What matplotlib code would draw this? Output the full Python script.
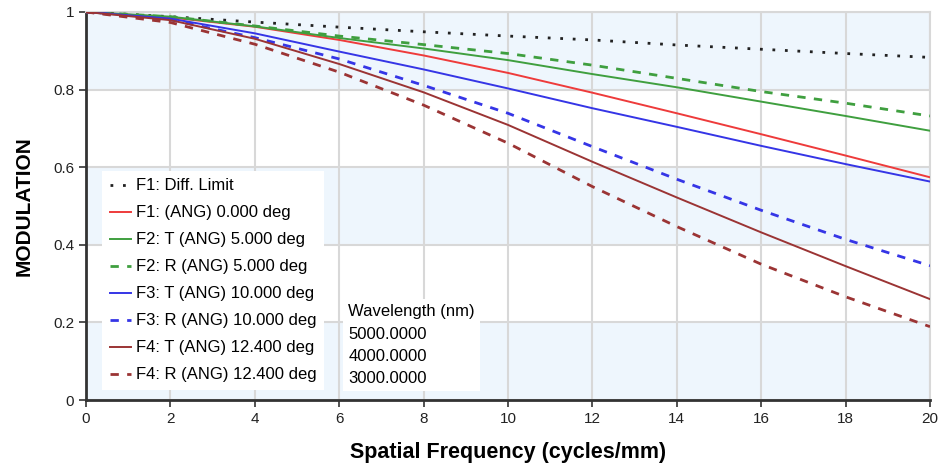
import matplotlib.pyplot as plt
import numpy as np

# spatial frequency (cycles/mm)
freq = [0, 2, 4, 6, 8, 10, 12, 14, 16, 18, 20]

diff_limit = [1.0, 0.988, 0.974, 0.961, 0.949, 0.938, 0.928, 0.915, 0.904, 0.893, 0.883]
f1_ang0 = [1.0, 0.986, 0.962, 0.928, 0.888, 0.843, 0.792, 0.739, 0.685, 0.630, 0.574]
f2_t5 = [1.0, 0.988, 0.963, 0.933, 0.906, 0.876, 0.840, 0.806, 0.769, 0.732, 0.694]
f2_r5 = [1.0, 0.988, 0.964, 0.938, 0.916, 0.893, 0.863, 0.829, 0.795, 0.765, 0.732]
f3_t10 = [1.0, 0.983, 0.945, 0.898, 0.852, 0.803, 0.752, 0.704, 0.655, 0.608, 0.563]
f3_r10 = [1.0, 0.980, 0.934, 0.879, 0.811, 0.739, 0.653, 0.569, 0.489, 0.414, 0.346]
f4_t124 = [1.0, 0.979, 0.931, 0.866, 0.793, 0.709, 0.614, 0.522, 0.432, 0.345, 0.260]
f4_r124 = [1.0, 0.973, 0.917, 0.845, 0.760, 0.662, 0.550, 0.447, 0.350, 0.266, 0.189]

labels = ["F1: Diff. Limit", "F1: (ANG) 0.000 deg", "F2: T (ANG) 5.000 deg",
          "F2: R (ANG) 5.000 deg", "F3: T (ANG) 10.000 deg", "F3: R (ANG) 10.000 deg",
          "F4: T (ANG) 12.400 deg", "F4: R (ANG) 12.400 deg"]
wavelengths = ["5000.0000", "4000.0000", "3000.0000"]

series = [diff_limit, f1_ang0, f2_t5, f2_r5, f3_t10, f3_r10, f4_t124, f4_r124]
colors = ["#222222", "#ee3b3b", "#3f9f3f", "#3f9f3f", "#3535e6", "#3535e6", "#9b3434", "#9b3434"]
dotted = (0, (1, 3.5))
dashed = (0, (3, 3))
styles = [dotted, "-", "-", dashed, "-", dashed, "-", dashed]
widths = [2.0, 1.4, 1.4, 2.0, 1.4, 2.0, 1.4, 2.0]

plt.rcParams['font.family'] = ['Liberation Sans', 'DejaVu Sans']

fig = plt.figure(figsize=(9.41, 4.68), dpi=100)
ax = fig.add_axes([86 / 941, 1 - 400 / 468, 844 / 941, 388 / 468])

# alternating bands
for i in range(5):
    if i % 2 == 0:
        ax.axhspan(i * 0.2, i * 0.2 + 0.2, color="#eef6fd", zorder=0, lw=0)

ax.grid(True, color="#d8d8d8", lw=1.5, zorder=1)
ax.set_axisbelow(True)

for y, c, ls, lw, lab in zip(series, colors, styles, widths, labels):
    ax.plot(freq, y, color=c, ls=ls, lw=lw, label=lab, zorder=3)

ax.set_xlim(0, 20)
ax.set_ylim(0, 1)
ax.set_xticks(np.arange(0, 21, 2))
ax.set_yticks([0, 0.2, 0.4, 0.6, 0.8, 1.0])
ax.set_yticklabels(["0", "0.2", "0.4", "0.6", "0.8", "1"])
ax.tick_params(labelsize=11, length=5, width=1.2, color="#333333", labelcolor="#222222")

for s in ["left", "bottom"]:
    ax.spines[s].set_linewidth(2)
    ax.spines[s].set_color("#333333")
for s in ["top", "right"]:
    ax.spines[s].set_color("#d8d8d8")
    ax.spines[s].set_linewidth(1.5)

ax.set_xlabel("Spatial Frequency (cycles/mm)", fontsize=15.5, fontweight="bold", labelpad=12)
ax.set_ylabel("MODULATION", fontsize=15, fontweight="bold", labelpad=14)

leg = ax.legend(loc="lower left", bbox_to_anchor=(0.019, 0.026), fontsize=12,
                handlelength=1.3, handletextpad=0.3, labelspacing=0.72,
                borderpad=0.45, fancybox=False, framealpha=1, edgecolor="none",
                borderaxespad=0)
leg.set_zorder(5)

ax.text(0.311, 0.035, "Wavelength (nm)\n" + "\n".join(wavelengths), transform=ax.transAxes,
        fontsize=12, linespacing=1.62, va="bottom", ha="left", zorder=6,
        bbox=dict(facecolor="white", edgecolor="none", boxstyle="square,pad=0.3"))

plt.savefig("out.png", dpi=100)
